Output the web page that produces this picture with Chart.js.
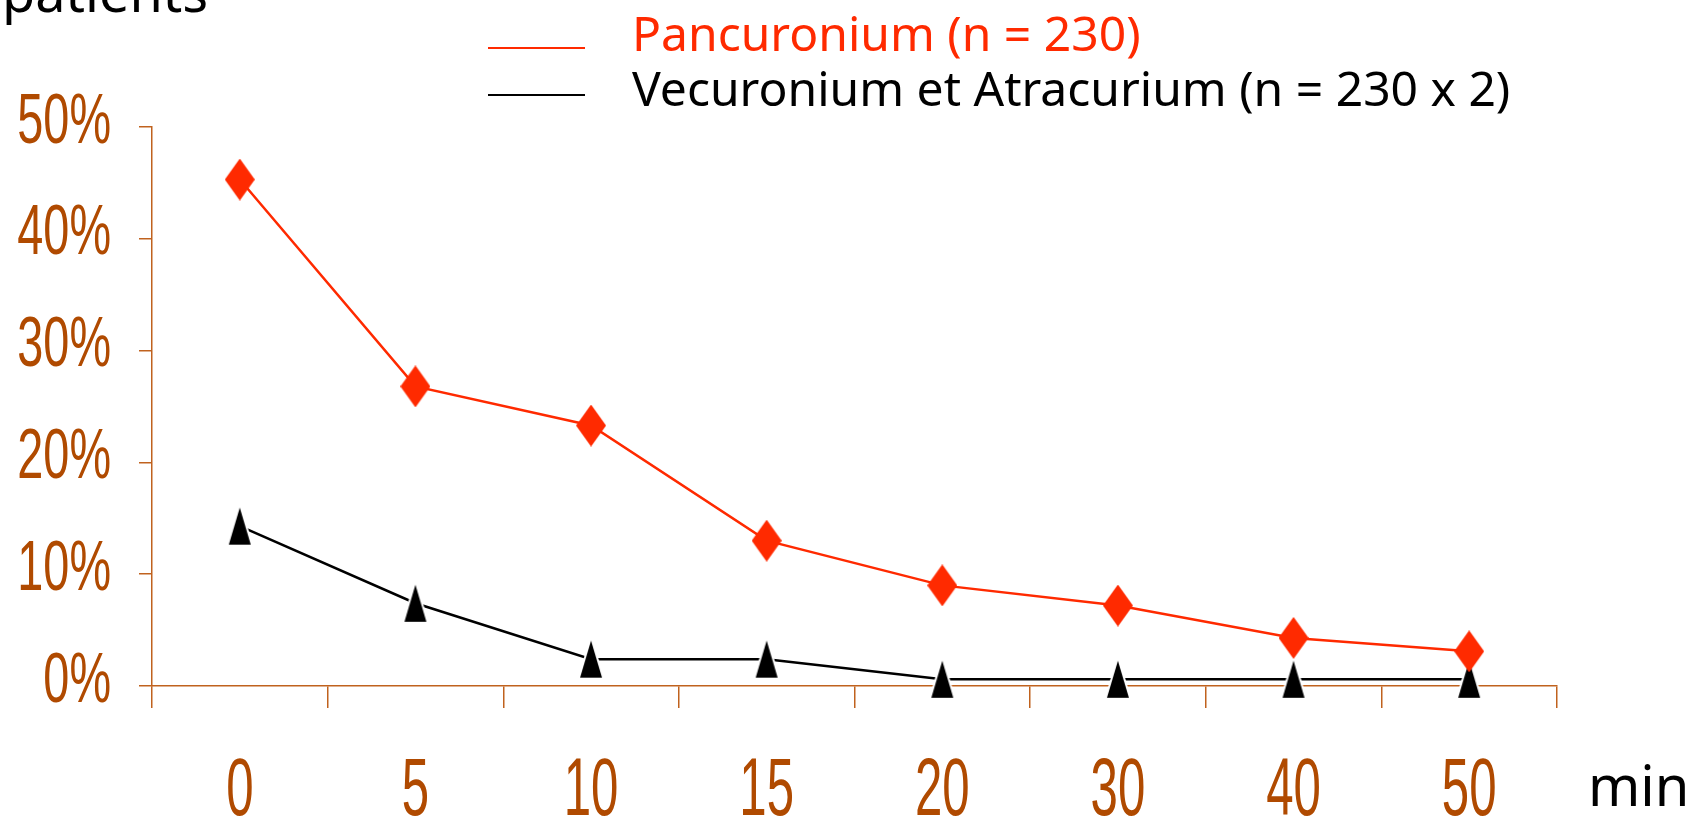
<!DOCTYPE html>
<html>
<head>
<meta charset="utf-8">
<style>
  body { margin: 0; background: #fff; }
</style>
</head>
<body>

<canvas id="curareChart" width="1700" height="816"></canvas>

<script src="https://cdn.jsdelivr.net/npm/chart.js@4.4.0/dist/chart.umd.min.js"></script>
<script>
// values (% of patients)
const minutes = ['0', '5', '10', '15', '20', '30', '40', '50'];
const pancuronium = [45.3, 26.8, 23.3, 13.0, 9.0, 7.2, 4.3, 3.1];
const vecuAtra = [14.3, 7.4, 2.4, 2.4, 0.6, 0.6, 0.6, 0.6];
const seriesNames = ['Pancuronium (n = 230)', 'Vecuronium et Atracurium (n = 230 x 2)'];
const yMax = 50;
const yStep = 10;

const RED = '#ff2a00';
const BROWN = '#b04a00';
const AXIS = '#c0621e';
const HAND = '"Noto Sans", "DejaVu Sans", sans-serif';
const SANS = '"Liberation Sans", Arial, sans-serif';
// no narrow font installed, so squeeze / stretch Liberation Sans instead
const Y_SCALE = [0.78, 1.18];
const X_SCALE = [0.82, 1.36];

// tall diamond / triangle markers like the original slide
function diamond(w, h, col) {
  const c = document.createElement('canvas');
  c.width = w; c.height = h;
  const g = c.getContext('2d');
  g.fillStyle = col;
  g.beginPath();
  g.moveTo(w / 2, 0); g.lineTo(w, h / 2); g.lineTo(w / 2, h); g.lineTo(0, h / 2);
  g.closePath();
  g.fill();
  return c;
}
function triangle(w, h, col) {
  const c = document.createElement('canvas');
  c.width = w + 6; c.height = h + 4;
  const g = c.getContext('2d');
  g.beginPath();
  g.moveTo(c.width / 2, 2); g.lineTo(c.width - 3, h + 2); g.lineTo(3, h + 2);
  g.closePath();
  g.strokeStyle = '#fff'; g.lineWidth = 4; g.stroke();
  g.fillStyle = col; g.fill();
  return c;
}

function narrowText(ctx, txt, x, y, sc) {
  ctx.save();
  ctx.translate(x, y);
  ctx.scale(sc[0], sc[1]);
  ctx.fillText(txt, 0, 0);
  ctx.restore();
}

// legend, "patients", "min" and the narrow tick labels
const extras = {
  id: 'extras',
  afterDraw(chart) {
    const ctx = chart.ctx;
    const xs = chart.scales.x;
    const ys = chart.scales.y;
    ctx.save();

    // legend lines + text
    const rows = [48, 95];
    chart.data.datasets.forEach((ds, i) => {
      ctx.strokeStyle = ds.borderColor;
      ctx.lineWidth = 2;
      ctx.beginPath();
      ctx.moveTo(488, rows[i]);
      ctx.lineTo(585, rows[i]);
      ctx.stroke();
      ctx.fillStyle = ds.borderColor;
      ctx.font = '48px ' + HAND;
      ctx.textAlign = 'left';
      ctx.textBaseline = 'alphabetic';
      ctx.fillText(ds.label, 632, rows[i] + 3 + i * 8);
    });

    ctx.fillStyle = '#000';
    ctx.font = '54px ' + HAND;
    ctx.fillText('patients', 2, 12);

    ctx.font = '56px ' + HAND;
    ctx.fillText('min', 1588, 806);

    // tick labels
    ctx.fillStyle = BROWN;
    ctx.font = '60px ' + SANS;
    ctx.textAlign = 'right';
    ctx.textBaseline = 'middle';
    ys.ticks.forEach((t, i) => {
      narrowText(ctx, t.value + '%', 111, ys.getPixelForTick(i) - 4, Y_SCALE);
    });

    ctx.textAlign = 'center';
    ctx.textBaseline = 'alphabetic';
    xs.ticks.forEach((t, i) => {
      narrowText(ctx, xs.getLabelForValue(t.value), xs.getPixelForTick(i), 815, X_SCALE);
    });

    ctx.restore();
  }
};

const data = {
  labels: minutes,
  datasets: [
    {
      label: seriesNames[0],
      data: pancuronium,
      borderColor: RED,
      backgroundColor: RED,
      borderWidth: 2.5,
      pointStyle: diamond(30, 42, RED),
      pointRadius: 15,
      clip: false
    },
    {
      label: seriesNames[1],
      data: vecuAtra,
      borderColor: '#000',
      backgroundColor: '#000',
      borderWidth: 2.5,
      pointStyle: triangle(22, 37, '#000'),
      pointRadius: 15,
      clip: false
    }
  ]
};

const config = {
  type: 'line',
  data,
  options: {
    responsive: false,
    animation: false,
    layout: { padding: { top: 127, right: 143, left: 0, bottom: 0 } },
    plugins: {
      legend: { display: false },
      tooltip: { enabled: false }
    },
    scales: {
      x: {
        offset: true,
        afterFit: s => { s.height = 130; },
        grid: { offset: true, drawOnChartArea: false, tickLength: 22, color: AXIS, lineWidth: 1.5 },
        border: { color: AXIS, width: 1.5 },
        ticks: { color: 'rgba(0,0,0,0)', font: { size: 20 } }
      },
      y: {
        min: 0,
        max: yMax,
        afterFit: s => { s.width = 152; },
        grid: { drawOnChartArea: false, tickLength: 13, color: AXIS, lineWidth: 1.5 },
        border: { color: AXIS, width: 1.5 },
        ticks: {
          stepSize: yStep,
          color: 'rgba(0,0,0,0)',
          font: { size: 20 },
          callback: v => v + '%'
        }
      }
    }
  },
  plugins: [extras]
};

const myChart = new Chart(document.getElementById('curareChart'), config);
</script>

</body>
</html>
